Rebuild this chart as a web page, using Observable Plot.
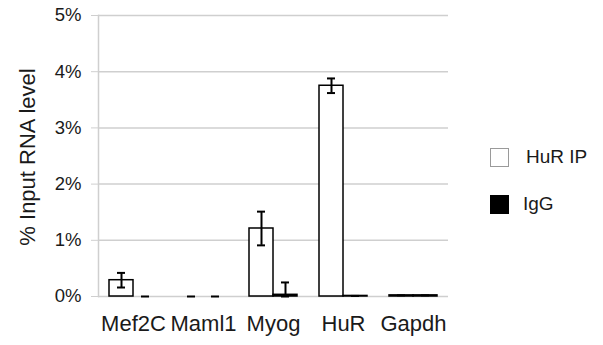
<!DOCTYPE html>
<html>
<head>
<meta charset="utf-8">
<script src="https://cdn.jsdelivr.net/npm/d3@7"></script>
<script src="https://cdn.jsdelivr.net/npm/@observablehq/plot@0.6"></script>
<style>
  html, body { margin: 0; padding: 0; background: #fff; }
  #wrap { position: relative; width: 603px; height: 345px; font-family: "Liberation Sans", Arial, Helvetica, sans-serif; color: #1a1a1a; }
  #ytitle { position: absolute; left: 28px; top: 157px; transform: translate(-50%, -50%) rotate(-90deg); white-space: nowrap; font-size: 22px; }
  .lg { position: absolute; display: flex; align-items: center; font-size: 19px; }
  .sw { width: 19px; height: 19px; box-sizing: border-box; margin-right: 17px; }
</style>
</head>
<body>
<div id="wrap">
  <div id="chart"></div>
  <div id="ytitle">% Input RNA level</div>
  <div class="lg" style="left:490px; top:146px;"><div class="sw" style="background:#fff; border:1.5px solid #9a9a9a;"></div><span>HuR IP</span></div>
  <div class="lg" style="left:490px; top:193px;"><div class="sw" style="background:#000; border:1.5px solid #000; margin-right:14px;"></div><span>IgG</span></div>
</div>
<script>
const cats = ["Mef2C", "Maml1", "Myog", "HuR", "Gapdh"];
const series = ["HuR IP", "IgG"];
const hurIP = [0.29, 0, 1.21, 3.75, 0.02];
const hurIPErr = [0.13, 0, 0.30, 0.13, 0];
const igg = [0, 0, 0.03, 0.01, 0.02];
const iggErr = [0, 0, 0.22, 0, 0];
const yTicks = [0, 1, 2, 3, 4, 5];

const rows = [];
cats.forEach((c, i) => {
  rows.push({cat: c, series: "HuR IP", value: hurIP[i], err: hurIPErr[i]});
  rows.push({cat: c, series: "IgG", value: igg[i], err: iggErr[i]});
});
const barRows = rows.filter(d => d.value > 0);
const errRows = rows.filter(d => d.err > 0);

const chart = Plot.plot({
  width: 603,
  height: 345,
  marginLeft: 97,
  marginRight: 154,
  marginTop: 15,
  marginBottom: 49,
  style: {fontFamily: '"Liberation Sans", Arial, Helvetica, sans-serif', color: "#1a1a1a", background: "transparent"},
  fx: {domain: cats, padding: 0, label: null},
  x: {domain: series, paddingInner: 0, paddingOuter: 0.437, axis: null},
  y: {domain: [0, 5], label: null},
  color: {domain: series, range: ["#ffffff", "#000000"]},
  marks: [
    Plot.gridY(yTicks, {stroke: "#cfcfcf", strokeOpacity: 1, strokeWidth: 1.5}),
    Plot.frame({anchor: "left", stroke: "#cfcfcf", strokeWidth: 1.5, facet: "super"}),
    Plot.axisY(yTicks, {tickSize: 7, tickPadding: 10, stroke: "#cfcfcf", fontSize: 18.5, tickFormat: d => d + "%", label: null}),
    Plot.axisFx({anchor: "bottom", tickSize: 0, tickPadding: 19, fontSize: 22, label: null}),
    Plot.barY(barRows, {fx: "cat", x: "series", y: "value", fill: "series", stroke: "#000", strokeWidth: 1.5}),
    Plot.ruleX(errRows, {fx: "cat", x: "series", y1: d => Math.max(0, d.value - d.err), y2: d => d.value + d.err, stroke: "#000", strokeWidth: 2}),
    Plot.tickY(rows, {fx: "cat", x: "series", y: d => d.value + d.err, stroke: "#000", strokeWidth: 2, insetLeft: 8, insetRight: 8}),
    Plot.tickY(errRows, {fx: "cat", x: "series", y: d => Math.max(0, d.value - d.err), stroke: "#000", strokeWidth: 2, insetLeft: 8, insetRight: 8})
  ]
});
document.getElementById("chart").appendChild(chart);
</script>
</body>
</html>
